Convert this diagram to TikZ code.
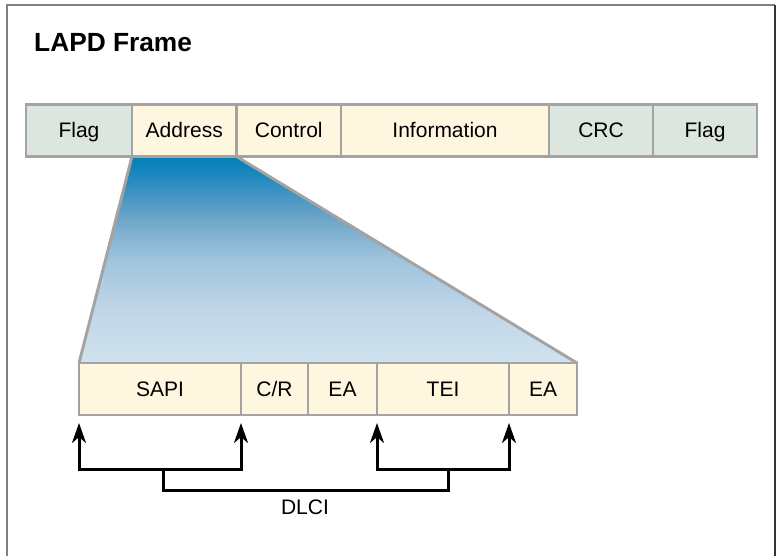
\documentclass[tikz,border=0pt]{standalone}
\usepackage{fontspec}
\setmainfont{Liberation Sans}
\usetikzlibrary{arrows.meta,backgrounds}

\definecolor{framegray}{RGB}{128,128,128}
\definecolor{framedark}{RGB}{51,51,51}
\definecolor{cellline}{RGB}{163,163,163}
\definecolor{cellgreen}{RGB}{220,230,222}
\definecolor{cellyellow}{RGB}{255,246,224}
\definecolor{fan0}{RGB}{208,226,238}
\definecolor{fan1}{RGB}{192,214,232}
\definecolor{fan2}{RGB}{160,196,222}
\definecolor{fan3}{RGB}{110,165,200}
\definecolor{fan4}{RGB}{25,135,190}
\definecolor{fan5}{RGB}{0,128,182}

% vertical blend for the zoomed-in address field (path spans 25bp..75bp)
\pgfdeclareverticalshading{zoomfan}{100bp}{%
  color(0bp)=(fan0); color(25bp)=(fan0); color(37.5bp)=(fan1);
  color(50bp)=(fan2); color(60bp)=(fan3); color(71bp)=(fan4);
  color(75bp)=(fan5); color(100bp)=(fan5)}

\begin{document}
\begin{tikzpicture}[x=1pt,y=-1pt,
  cell/.style={draw=cellline, line width=2.9pt, inner sep=0pt, outer sep=0pt,
    minimum height=52pt, text height=15pt, text depth=0pt,
    font=\fontsize{21}{25}\selectfont},
  flagcell/.style={cell, fill=cellgreen},
  datacell/.style={cell, fill=cellyellow},
  tipshape/.style={},
  bracket/.style={line width=3pt,
    {Stealth[length=20pt 0,width=14pt 0,inset=6pt 0]}-{Stealth[length=20pt 0,width=14pt 0,inset=6pt 0]}},
  stemline/.style={line width=3pt},
  label/.style={inner sep=0pt, text height=15pt, text depth=0pt,
    font=\fontsize{21}{25}\selectfont}]

\useasboundingbox (0,0) rectangle (776,556);

% outer frame (open at the bottom)
\draw[framegray, line width=2pt] (7.3,556) -- (7.3,5.3) -- (775,5.3);
\draw[framedark, line width=1.5pt] (775,5.3) -- (775,556);

% title
\node[anchor=base west, inner sep=0pt, font=\bfseries\fontsize{26.3}{30}\selectfont]
  (title) at (34,51.7) {LAPD Frame};

% LAPD frame fields
\node[flagcell, minimum width=106pt]   (flag1) at (79,130.5)    {Flag};
\node[datacell, minimum width=104.5pt] (addr)  at (184.25,130.5) {Address};
\node[datacell, minimum width=104.5pt] (ctrl)  at (288.75,130.5) {Control};
\node[datacell, minimum width=208pt]   (info)  at (445,130.5)   {Information};
\node[flagcell, minimum width=104pt]   (crc)   at (601,130.5)   {CRC};
\node[flagcell, minimum width=104pt]   (flag2) at (705,130.5)   {Flag};

% address field breakdown
\node[datacell, minimum width=162pt] (sapi) at (160,389)   {SAPI};
\node[datacell, minimum width=67pt]  (cr)   at (274.5,389) {C/R};
\node[datacell, minimum width=69pt]  (ea1)  at (342.5,389) {EA};
\node[datacell, minimum width=132pt] (tei)  at (443,389)   {TEI};
\node[datacell, minimum width=68pt]  (ea2)  at (543,389)   {EA};

% expansion fan from Address down to its subfields
\begin{pgfonlayer}{background}
  \shade[shading=zoomfan] (addr.south west) -- (sapi.north west)
    -- (ea2.north east) -- (addr.south east) -- cycle;
  \draw[cellline, line width=2.9pt] (addr.south west) -- (sapi.north west)
    (ea2.north east) -- (addr.south east);
\end{pgfonlayer}

% DLCI brackets
\draw[bracket] ([yshift=-8pt]sapi.south west) -- ++(0,46) -| ([yshift=-8pt]sapi.south east);
\draw[bracket] ([yshift=-8pt]tei.south west) -- ++(0,46) -| ([yshift=-8pt]tei.south east);
\coordinate (lstem) at (163,469);
\coordinate (rstem) at (448,469);
\draw[stemline] (lstem) -- ++(0,21) -| (rstem);
\node[label] (dlci) at (305,507.4) {DLCI};

\end{tikzpicture}
\end{document}
